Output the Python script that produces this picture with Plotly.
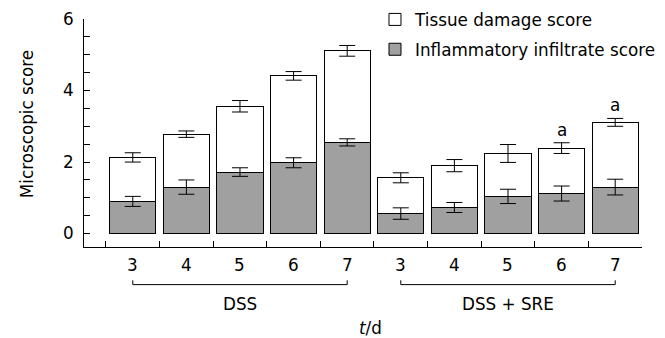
import plotly.graph_objects as go

# ---- data ----
groups = ["DSS", "DSS + SRE"]
days = [3, 4, 5, 6, 7]
inflammatory = [0.90, 1.30, 1.72, 1.98, 2.55, 0.56, 0.73, 1.04, 1.12, 1.30]
inflammatory_err = [0.14, 0.20, 0.12, 0.14, 0.10, 0.16, 0.14, 0.20, 0.21, 0.22]
tissue_damage = [1.23, 1.48, 1.84, 2.43, 2.56, 1.00, 1.17, 1.20, 1.27, 1.81]
total_err = [0.13, 0.09, 0.16, 0.12, 0.15, 0.14, 0.17, 0.25, 0.15, 0.11]
significance = ["", "", "", "", "", "", "", "", "a", "a"]
y_ticks_labelled = [0, 2, 4, 6]

FONT = "DejaVu Sans"
FS = 16.8
n = len(groups) * len(days)
xpos = list(range(n))
day_labels = [d for g in groups for d in days]
totals = [a + b for a, b in zip(inflammatory, tissue_damage)]

fig = go.Figure()
fig.add_trace(go.Bar(
    x=xpos, y=inflammatory, width=0.86, name="Inflammatory infiltrate score",
    marker=dict(color="#a0a0a0", line=dict(color="#000000", width=1)),
    legendgroup="b", legendrank=2,
))
fig.add_trace(go.Bar(
    x=xpos, y=tissue_damage, width=0.86, name="Tissue damage score",
    marker=dict(color="#ffffff", line=dict(color="#000000", width=1)),
    legendgroup="a", legendrank=1,
))
# error bars on top of each stacked segment
for yv, ev in [(inflammatory, inflammatory_err), (totals, total_err)]:
    fig.add_trace(go.Scatter(
        x=xpos, y=yv, mode="markers", marker=dict(size=1, opacity=0),
        error_y=dict(type="data", array=ev, color="#000000", thickness=1, width=8),
        showlegend=False, hoverinfo="skip",
    ))

# significance letters
for i, s in enumerate(significance):
    if s:
        fig.add_annotation(x=xpos[i], y=totals[i] + total_err[i], text=s, showarrow=False,
                           yanchor="bottom", yshift=1, font=dict(family=FONT, size=FS, color="#000"))

# day labels under the axis
for i, d in enumerate(day_labels):
    fig.add_annotation(x=xpos[i], y=-0.080, yref="paper", text=str(d), showarrow=False,
                       yanchor="middle", font=dict(family=FONT, size=FS, color="#000"))

# group brackets and labels
for gi, g in enumerate(groups):
    x0 = xpos[gi * len(days)]
    x1 = xpos[gi * len(days) + len(days) - 1]
    fig.add_shape(type="path", xref="x", yref="paper",
                  path=f"M {x0},-0.146 L {x0},-0.165 L {x1},-0.165 L {x1},-0.146",
                  line=dict(color="#000000", width=1))
    fig.add_annotation(x=(x0 + x1) / 2, y=-0.248, yref="paper", text=g, showarrow=False,
                       yanchor="middle", font=dict(family=FONT, size=FS, color="#000"))

fig.add_annotation(x=0.513, y=-0.357, xref="paper", yref="paper", text="<i>t</i>/d",
                   xanchor="center", showarrow=False, yanchor="middle",
                   font=dict(family=FONT, size=FS, color="#000"))
fig.add_annotation(x=-0.102, y=0.539, xref="paper", yref="paper", text="Microscopic score",
                   xanchor="center", yanchor="middle",
                   textangle=-90, showarrow=False, font=dict(family=FONT, size=FS, color="#000"))

ytickvals = [i * 0.5 for i in range(13)]
yticktext = [str(int(v)) if v in y_ticks_labelled else "" for v in ytickvals]
xtickvals = [p - 0.5 for p in xpos] + [xpos[-1] + 0.5]

fig.update_layout(
    width=657, height=330,
    margin=dict(l=76, r=23, t=11, b=91, autoexpand=False),
    barmode="stack",
    plot_bgcolor="#ffffff", paper_bgcolor="#ffffff",
    font=dict(family=FONT, size=FS, color="#000"),
    showlegend=True,
    legend=dict(x=0.5215, y=1.0746, xanchor="left", yanchor="top",
                traceorder="grouped", tracegroupgap=5,
                font=dict(family=FONT, size=FS, color="#000"),
                bgcolor="rgba(0,0,0,0)"),
    xaxis=dict(range=[-0.91, xpos[-1] + 0.5], showgrid=False, zeroline=False,
               showline=True, linecolor="#000000", linewidth=1, automargin=False,
               tickmode="array", tickvals=xtickvals, ticktext=[""] * len(xtickvals),
               ticks="inside", ticklen=6, tickcolor="#000000", tickwidth=1),
    yaxis=dict(range=[-0.375, 6], showgrid=False, zeroline=False,
               showline=True, linecolor="#000000", linewidth=1, automargin=False,
               tickmode="array", tickvals=ytickvals, ticktext=yticktext,
               ticks="inside", ticklen=6, tickcolor="#000000", tickwidth=1,
               ticklabelstandoff=6),
)

fig.write_html("out.html")
